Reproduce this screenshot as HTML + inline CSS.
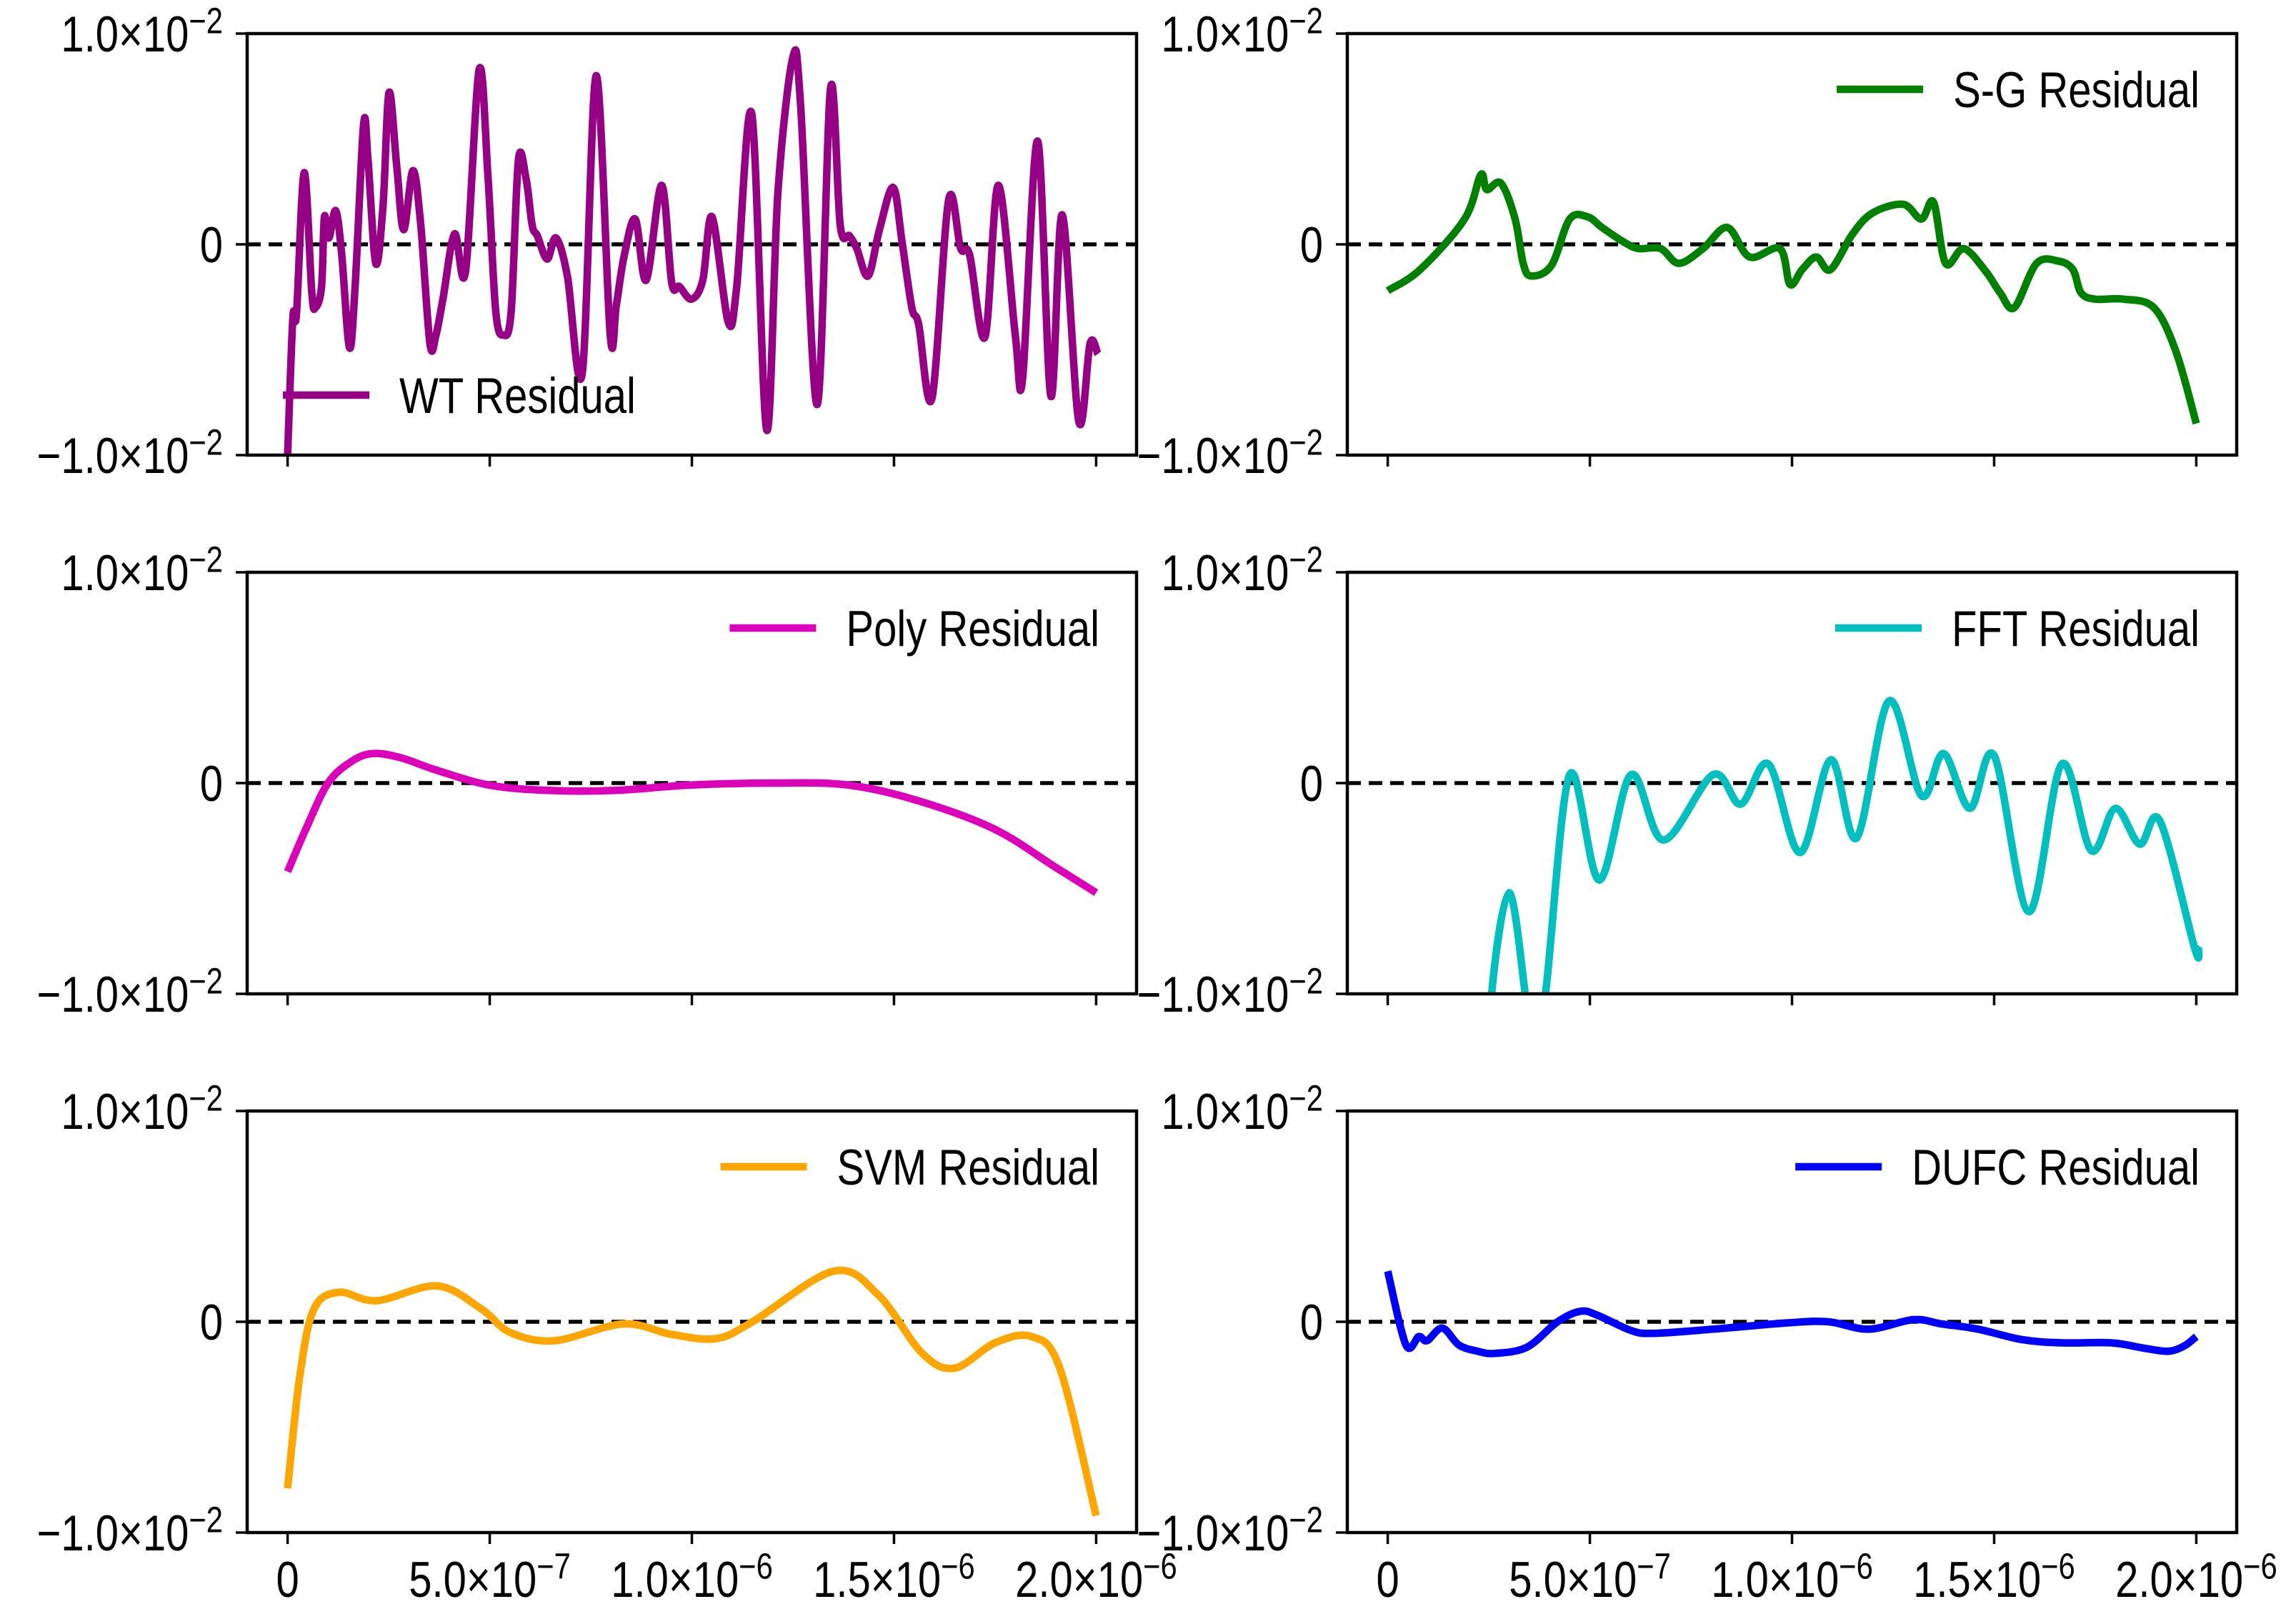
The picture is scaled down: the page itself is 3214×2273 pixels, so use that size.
<!DOCTYPE html>
<html><head><meta charset="utf-8"><style>
html,body{margin:0;padding:0;background:#fff;}
svg{display:block;}
text{font-family:"Liberation Sans","DejaVu Sans",sans-serif;fill:#000;}
</style></head><body>
<svg id="fig" width="3214" height="2273" viewBox="0 0 3214 2273" xmlns="http://www.w3.org/2000/svg"></svg>
<script>
// x values in units of 1e-7, y values in units of 1e-2
const wtX=[0,0.13,0.22,0.41,0.6,0.69,0.84,0.91,1.02,1.19,1.34,1.53,1.67,1.88,1.99,2.18,2.36,2.51,2.7,2.87,3.1,3.29,3.52,3.67,3.85,4.13,4.4,4.74,4.96,5.15,5.34,5.53,5.71,5.9,6.05,6.18,6.42,6.64,6.92,7.29,7.63,7.98,8.13,8.32,8.6,8.87,9.25,9.5,9.69,9.99,10.27,10.5,10.9,11.11,11.48,11.85,12.13,12.5,12.69,13.1,13.43,13.67,13.9,14.08,14.36,14.64,14.98,15.2,15.44,15.61,15.94,16.35,16.65,16.87,17.25,17.58,18.0,18.18,18.55,18.88,19.16,19.57,19.85,20.04];
const wtY=[-1.0,-0.35,-0.33,0.34,-0.23,-0.3,-0.2,0.13,0.03,0.16,-0.05,-0.49,-0.2,0.57,0.4,-0.09,0.18,0.72,0.37,0.07,0.35,0.1,-0.47,-0.43,-0.25,0.05,-0.13,0.83,0.31,-0.32,-0.43,-0.32,0.4,0.31,0.09,0.04,-0.07,0.03,-0.15,-0.61,0.8,-0.43,-0.29,-0.06,0.12,-0.17,0.28,-0.18,-0.2,-0.26,-0.17,0.13,-0.37,-0.2,0.62,-0.88,0.25,0.89,0.66,-0.76,0.74,0.09,0.04,-0.02,-0.15,0.07,0.27,0.01,-0.3,-0.38,-0.73,0.21,-0.02,-0.05,-0.44,0.28,-0.43,-0.64,0.49,-0.72,0.14,-0.84,-0.47,-0.52];
const sgX=[0,0.8,1.9,2.3,2.45,2.8,3.15,3.35,3.55,4.05,4.5,4.95,5.3,5.85,6.2,6.75,7.2,7.8,8.4,8.95,9.7,9.95,10.25,10.6,10.95,11.5,12.0,12.75,13.2,13.5,13.8,14.25,14.8,15.15,15.5,16.05,16.6,16.95,17.15,17.5,18.2,18.95,19.5,20.0];
const sgY=[-0.22,-0.12,0.12,0.33,0.26,0.29,0.12,-0.09,-0.15,-0.1,0.12,0.13,0.08,0.01,-0.02,-0.02,-0.09,-0.02,0.08,-0.06,-0.02,-0.19,-0.12,-0.06,-0.12,0.05,0.15,0.19,0.12,0.2,-0.09,-0.02,-0.13,-0.23,-0.3,-0.09,-0.08,-0.12,-0.23,-0.26,-0.26,-0.3,-0.51,-0.85];
const polyX=[0,0.47,1.0,1.56,2.1,2.8,3.7,5.0,6.45,8.1,9.9,12.0,13.9,15.7,17.5,19.0,20.0];
const polyY=[-0.42,-0.21,0,0.1,0.14,0.12,0.06,-0.01,-0.035,-0.035,-0.01,0,-0.01,-0.09,-0.22,-0.4,-0.52];
const fftX=[2.45,2.57,3.0,3.4,3.55,3.9,4.5,5.23,6.02,6.82,8.05,8.73,9.42,10.2,10.96,11.6,12.4,13.2,13.75,14.4,15.0,15.86,16.67,17.4,18.0,18.6,19.1,19.97,20.05];
const fftY=[-1.6,-1.0,-0.52,-1.0,-1.3,-1.0,0.04,-0.46,0.04,-0.27,0.04,-0.1,0.09,-0.33,0.11,-0.26,0.39,-0.06,0.14,-0.12,0.13,-0.61,0.09,-0.32,-0.12,-0.29,-0.18,-0.79,-0.77];
const svmX=[0,0.3,0.65,1.27,2.2,3.7,4.8,5.5,6.6,8.3,9.5,10.6,11.5,13.5,14.6,15.7,16.5,17.5,18.4,19.1,20.0];
const svmY=[-0.79,-0.26,0.06,0.14,0.1,0.17,0.06,-0.05,-0.09,-0.01,-0.06,-0.08,0,0.24,0.13,-0.15,-0.22,-0.1,-0.07,-0.22,-0.92];
const dufcX=[0,0.45,0.77,0.97,1.35,1.76,2.23,2.65,3.45,4.2,4.77,5.2,6.0,6.55,8.05,9.9,10.9,11.9,13.0,13.7,14.6,15.7,16.7,17.9,18.7,19.3,19.7,20.0];
const dufcY=[0.24,-0.11,-0.07,-0.09,-0.03,-0.11,-0.14,-0.15,-0.12,0.0,0.05,0.03,-0.04,-0.055,-0.035,-0.005,0,-0.035,0.01,-0.01,-0.035,-0.085,-0.1,-0.1,-0.125,-0.14,-0.115,-0.07];
const xTickVals=[0,5,10,15,20];
const xTickLabels=[["0",""],["5.0×10","−7"],["1.0×10","−6"],["1.5×10","−6"],["2.0×10","−6"]];
const yTickVals=[1,0,-1];
const yTickLabels=[["1.0×10","−2"],["0",""],["−1.0×10","−2"]];

const NS="http://www.w3.org/2000/svg";
const svg=document.getElementById('fig');
const SY=1.22;
function mk(tag,attrs,parent){const e=document.createElementNS(NS,tag);for(const k in attrs)e.setAttribute(k,attrs[k]);(parent||svg).appendChild(e);return e;}
function label(parent,x,y,parts,anchor,size){
  const t=mk('text',{x:0,y:0,'text-anchor':anchor,'font-size':size,transform:'translate('+x+','+y+') scale(1,'+SY+')'},parent);
  t.appendChild(document.createTextNode(parts[0]));
  if(parts[1]){const s=mk('tspan',{dy:-21,'font-size':size*0.72},t);s.textContent=parts[1];}
  return t;
}
function spline(pts){
  let d='M'+pts[0][0].toFixed(1)+','+pts[0][1].toFixed(1);
  for(let i=0;i<pts.length-1;i++){
    const p0=pts[Math.max(i-1,0)],p1=pts[i],p2=pts[i+1],p3=pts[Math.min(i+2,pts.length-1)];
    const c1=[p1[0]+(p2[0]-p0[0])/6,p1[1]+(p2[1]-p0[1])/6];
    const c2=[p2[0]-(p3[0]-p1[0])/6,p2[1]-(p3[1]-p1[1])/6];
    d+='C'+c1[0].toFixed(1)+','+c1[1].toFixed(1)+' '+c2[0].toFixed(1)+','+c2[1].toFixed(1)+' '+p2[0].toFixed(1)+','+p2[1].toFixed(1);
  }
  return d;
}
const panels=[
 {name:'wt',L:346,T:47,X:wtX,Y:wtY,color:'#960085',label:'WT Residual',leg:'bl',xl:false},
 {name:'sg',L:1886,T:47,X:sgX,Y:sgY,color:'#008000',label:'S-G Residual',leg:'tr',xl:false},
 {name:'poly',L:346,T:801,X:polyX,Y:polyY,color:'#dd00bb',label:'Poly Residual',leg:'tr',xl:false},
 {name:'fft',L:1886,T:801,X:fftX,Y:fftY,color:'#00bfbf',label:'FFT Residual',leg:'tr',xl:false},
 {name:'svm',L:346,T:1555,X:svmX,Y:svmY,color:'#ffa500',label:'SVM Residual',leg:'tr',xl:true},
 {name:'dufc',L:1886,T:1555,X:dufcX,Y:dufcY,color:'#0000ff',label:'DUFC Residual',leg:'tr',xl:true}
];
const W=1245,H=590;
panels.forEach((p,i)=>{
  const g=mk('g',{});
  
  
  const xs=v=>p.L+(v+1)/22*W;
  const ys=v=>p.T+H/2-v*(H/2);
  const cp=mk('clipPath',{id:'clip'+i},g);
  mk('rect',{x:p.L,y:p.T,width:W,height:H},cp);
  const z=mk('line',{x1:p.L,x2:p.L+W,y1:ys(0),y2:ys(0),stroke:'#000','stroke-width':5.5,'stroke-dasharray':'19 11'},g);
  
  
  const pts=p.X.map((x,k)=>[xs(x),ys(p.Y[k])]);
  const path=mk('path',{d:spline(pts),fill:'none',stroke:p.color,'stroke-width':10.5,'stroke-linejoin':'round','stroke-linecap':'butt','clip-path':'url(#clip'+i+')'},g);
  
  
  const fr=mk('rect',{x:p.L,y:p.T,width:W,height:H,fill:'none',stroke:'#000','stroke-width':4.5},g);
  
  
  xTickVals.forEach((v,k)=>{
    const tk=mk('line',{x1:xs(v),x2:xs(v),y1:p.T+H,y2:p.T+H+16,stroke:'#000','stroke-width':3.5},g);
    
    
    if(p.xl){
      const t=label(g,xs(v),p.T+H+90,xTickLabels[k],'middle',58);
      
      
    }
  });
  yTickVals.forEach((v,k)=>{
    const tk=mk('line',{x1:p.L-16,x2:p.L,y1:ys(v),y2:ys(v),stroke:'#000','stroke-width':3.5},g);
    
    
    const t=label(g,p.L-34,ys(v)+25,yTickLabels[k],'end',58);
    
    
  });
  const lg=mk('g',{},g);
  
  
  let lx,ly;
  if(p.leg==='bl'){lx=p.L+50;ly=p.T+506;mk('line',{x1:lx,x2:lx+121,y1:ly,y2:ly,stroke:p.color,'stroke-width':10.5},lg);
    const t=mk('text',{x:0,y:0,'font-size':58,transform:'translate('+(lx+163)+','+(ly+25)+') scale(1,'+SY+')'},lg);t.textContent=p.label;}
  else{ly=p.T+78;const tr=p.L+W-52;
    const t=mk('text',{x:0,y:0,'font-size':58,'text-anchor':'end',transform:'translate('+tr+','+(ly+25)+') scale(1,'+SY+')'},lg);t.textContent=p.label;
    const tw=t.getComputedTextLength?t.getComputedTextLength():p.label.length*30;
    const le=tr-tw-42;mk('line',{x1:le-121,x2:le,y1:ly,y2:ly,stroke:p.color,'stroke-width':10.5},lg);}
});
</script>
</body></html>
